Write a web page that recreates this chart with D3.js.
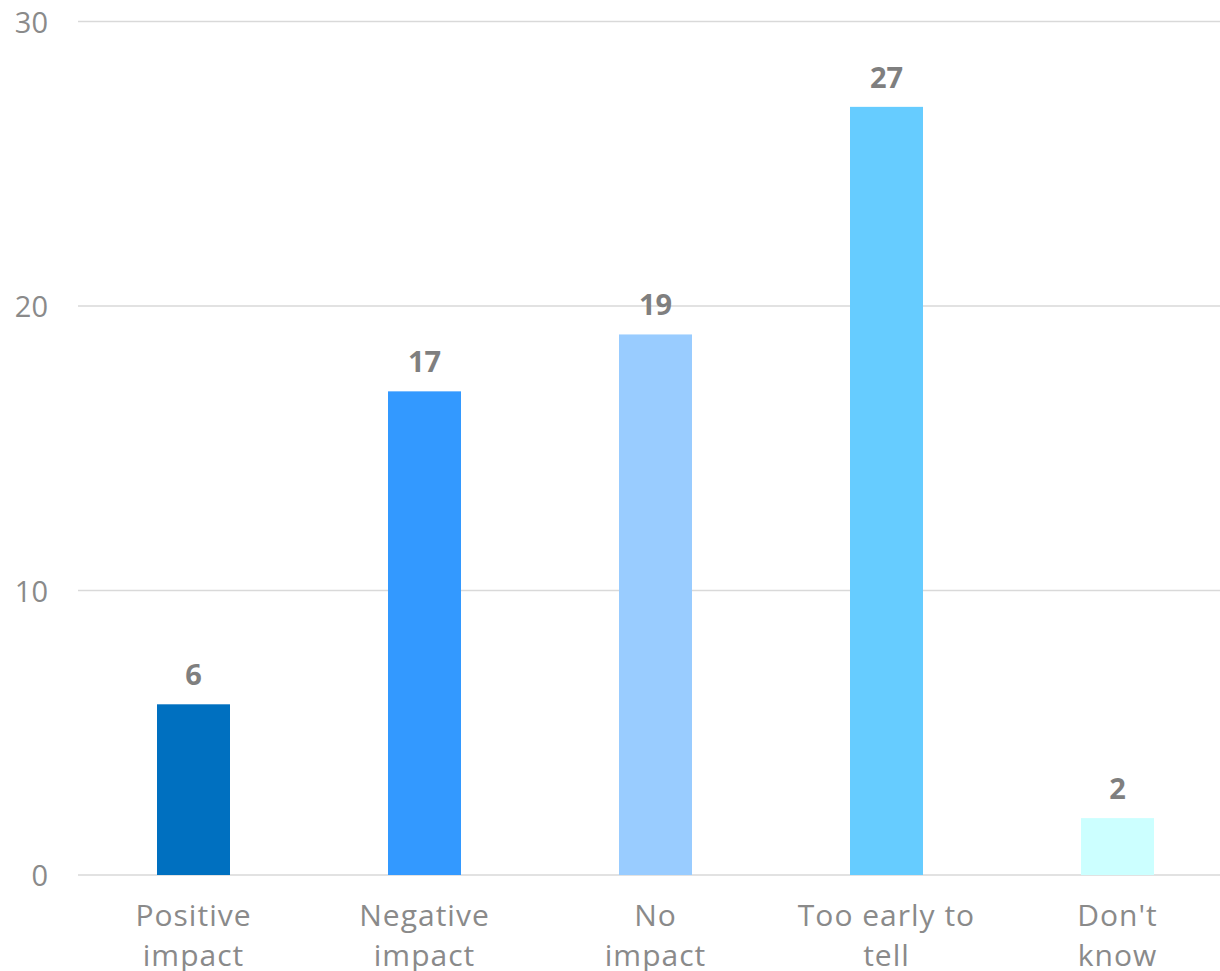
<!DOCTYPE html>
<html>
<head>
<meta charset="utf-8">
<script src="https://cdn.jsdelivr.net/npm/d3@7"></script>
<style>
  body { margin: 0; background: #fff; }
  svg text { font-family: "Open Sans", "Lato", sans-serif; }
</style>
</head>
<body>
<svg id="chart" width="1220" height="971"></svg>
<script>
const categories = [["Positive", "impact"], ["Negative", "impact"], ["No", "impact"], ["Too early to", "tell"], ["Don't", "know"]];
const values = [6, 17, 19, 27, 2];
const barColors = ["#0070C0", "#3399FF", "#99CCFF", "#66CCFF", "#CCFFFF"];
const yTicks = [0, 10, 20, 30];

const svg = d3.select("#chart");

// plot area runs past the right edge of the picture, like the original
const x = d3.scaleBand()
  .domain(d3.range(values.length))
  .range([78, 1233])
  .paddingInner(0.684)
  .paddingOuter(0.342);

const y = d3.scaleLinear()
  .domain([0, 30])
  .range([875, 21.5]);

// gridlines
svg.append("g")
  .selectAll("line")
  .data(yTicks)
  .join("line")
  .attr("x1", 78)
  .attr("x2", 1220)
  .attr("y1", d => y(d))
  .attr("y2", d => y(d))
  .attr("stroke", "#d9d9d9")
  .attr("stroke-width", 1.5);

// y tick labels
svg.append("g")
  .selectAll("text")
  .data(yTicks)
  .join("text")
  .attr("x", 48)
  .attr("y", d => y(d) + 11)
  .attr("text-anchor", "end")
  .attr("font-size", 29)
  .attr("fill", "#8a8a8a")
  .text(d => d);

// bars
svg.append("g")
  .selectAll("rect")
  .data(values)
  .join("rect")
  .attr("x", (d, i) => x(i))
  .attr("width", x.bandwidth())
  .attr("y", d => y(d))
  .attr("height", d => y(0) - y(d))
  .attr("fill", (d, i) => barColors[i]);

// value labels
svg.append("g")
  .selectAll("text")
  .data(values)
  .join("text")
  .attr("x", (d, i) => x(i) + x.bandwidth() / 2)
  .attr("y", d => y(d) - 19)
  .attr("text-anchor", "middle")
  .attr("font-size", 29)
  .attr("font-weight", "bold")
  .attr("fill", "#7f7f7f")
  .text(d => d);

// category labels (second line is cut by the bottom edge, as in the original)
const catG = svg.append("g")
  .selectAll("text")
  .data(categories)
  .join("text")
  .attr("x", (d, i) => x(i) + x.bandwidth() / 2)
  .attr("y", 926)
  .attr("text-anchor", "middle")
  .attr("font-size", 30)
  .attr("letter-spacing", 1)
  .attr("fill", "#8a8a8a");

catG.selectAll("tspan")
  .data(d => d)
  .join("tspan")
  .attr("x", function() { return d3.select(this.parentNode).attr("x"); })
  .attr("dy", (d, i) => i === 0 ? 0 : 40)
  .text(d => d);
</script>
</body>
</html>
